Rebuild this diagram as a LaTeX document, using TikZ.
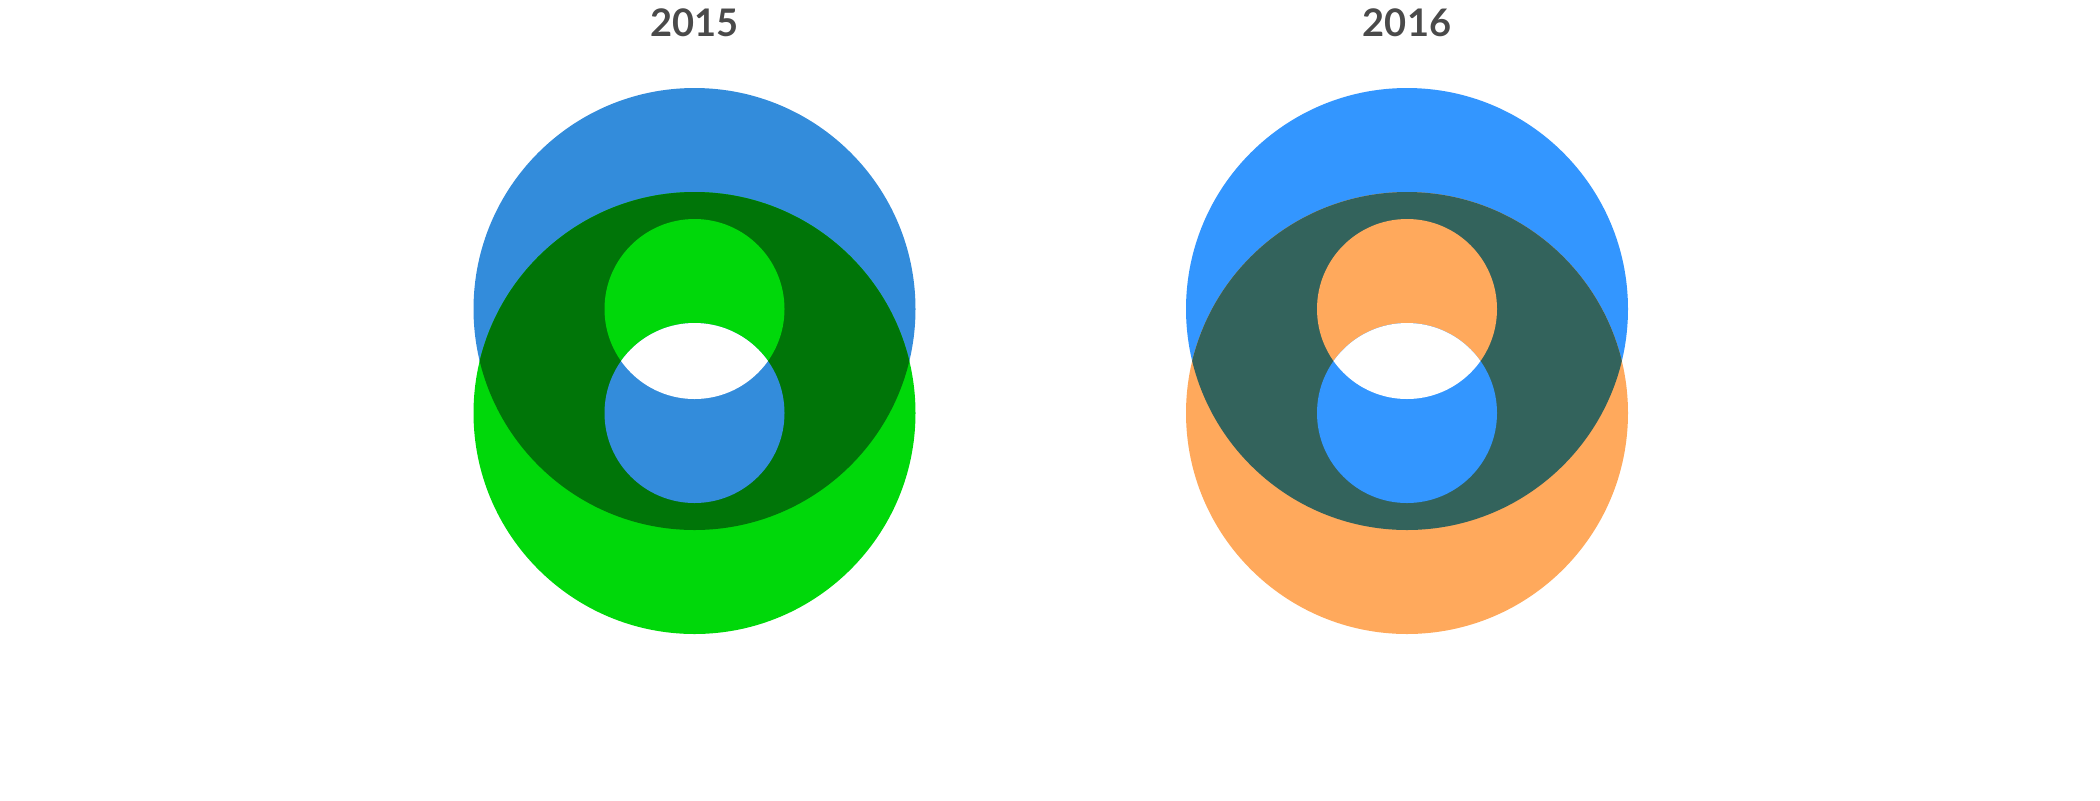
\documentclass[tikz,border=0pt]{standalone}
\usepackage{fontspec}
\setmainfont{Lato}
\definecolor{titlegray}{HTML}{4A4A4A}
\definecolor{blueA}{HTML}{338CDB}
\definecolor{greenA}{HTML}{00D80A}
\definecolor{darkA}{HTML}{007508}
\definecolor{blueB}{HTML}{3396FF}
\definecolor{orangeB}{HTML}{FFA95C}
\definecolor{darkB}{HTML}{33635C}

\begin{document}
\begin{tikzpicture}[
  x=0.5pt, y=-0.5pt,
  title/.style={font=\bfseries\fontsize{19}{22}\selectfont, text=titlegray, anchor=base, inner sep=0pt}
]
\useasboundingbox (0,0) rectangle (2100,800);

\foreach \cx/\yr/\colup/\coldown/\colmix in {694.5/2015/blueA/greenA/darkA, 1407/2016/blueB/orangeB/darkB} {
  \node[title] (t\yr) at (\cx,36) {\yr};
  \coordinate (up\yr) at (\cx,309);
  \coordinate (down\yr) at (\cx,413);
  % outer discs
  \fill[\colup] (up\yr) circle (221);
  \fill[\coldown] (down\yr) circle (221);
  \begin{scope}
    \clip (up\yr) circle (221);
    \fill[\colmix] (down\yr) circle (221);
  \end{scope}
  % holes
  \fill[\coldown] (up\yr) circle (90);
  \fill[\colup] (down\yr) circle (90);
  \begin{scope}
    \clip (up\yr) circle (90);
    \fill[white] (down\yr) circle (90);
  \end{scope}
}
\end{tikzpicture}
\end{document}
